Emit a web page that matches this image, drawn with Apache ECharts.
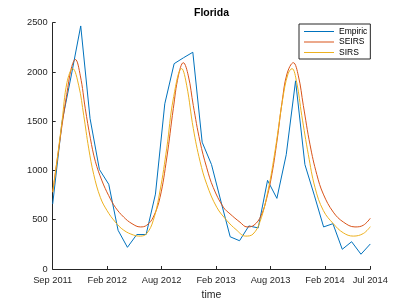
<!DOCTYPE html>
<html><head><meta charset="utf-8">
<script src="https://cdn.jsdelivr.net/npm/echarts@6/dist/echarts.min.js"></script>
<style>html,body{margin:0;padding:0;background:#fff}#c{width:409px;height:306px}</style>
</head><body><div id="c"></div>
<script>
// x axis: months since Sep 2011
const tickLabels = ['Sep 2011', 'Feb 2012', 'Aug 2012', 'Feb 2013', 'Aug 2013', 'Feb 2014', 'Jul 2014'];
const tickMonths = [0, 5.83, 11.66, 17.49, 23.32, 29.15, 34];
const yTicks = [0, 500, 1000, 1500, 2000, 2500];

// Empiric (monthly)
const empiric = [660, 1494, 1970, 2467, 1527, 1010, 860, 393, 220, 350, 350, 760, 1677, 2084, 2144, 2200, 1287, 1060, 690, 327, 287, 437, 417, 900, 717, 1160, 1910, 1060, 750, 427, 460, 200, 277, 150, 254];

// SEIRS model
const seirsT = [0.00, 0.50, 1.00, 1.50, 2.00, 2.42, 2.96, 3.49, 4.03, 4.56, 5.28, 6.00, 6.70, 7.60, 8.49, 9.38, 10.06, 10.77, 11.49, 12.21, 12.91, 13.45, 13.98, 14.52, 15.05, 15.77, 16.49, 17.19, 18.27, 18.98, 20.05, 20.80, 21.55, 22.30, 22.94, 23.48, 24.01, 24.55, 25.08, 25.76, 26.30, 26.83, 27.55, 28.27, 28.97, 30.04, 31.11, 32.36, 33.25, 34.00];
const seirsV = [780, 1120, 1460, 1770, 2040, 2127, 1960, 1627, 1327, 1094, 894, 744, 627, 527, 460, 427, 444, 527, 727, 1127, 1627, 1960, 2094, 1960, 1660, 1294, 1027, 827, 627, 560, 475, 427, 445, 540, 730, 970, 1300, 1690, 1980, 2094, 1960, 1660, 1260, 960, 760, 577, 477, 427, 444, 515];

// SIRS model
const sirsT = [0.00, 0.50, 1.00, 1.53, 2.14, 2.79, 3.32, 3.85, 4.39, 5.10, 5.81, 6.70, 7.60, 8.67, 9.38, 10.06, 10.77, 11.49, 12.21, 12.91, 13.81, 14.35, 15.05, 15.77, 16.49, 17.56, 18.63, 19.63, 20.66, 21.45, 22.19, 23.02, 23.84, 24.63, 25.19, 25.62, 26.12, 26.66, 27.37, 28.08, 28.97, 30.04, 31.11, 32.18, 33.25, 34.00];
const sirsV = [780, 1130, 1500, 1894, 2034, 1860, 1560, 1227, 960, 727, 594, 477, 394, 344, 334, 360, 494, 794, 1227, 1727, 2034, 1860, 1427, 1094, 860, 627, 494, 400, 334, 355, 480, 780, 1220, 1730, 1980, 2034, 1894, 1560, 1160, 827, 594, 460, 367, 334, 360, 430];

const seriesNames = ['Empiric', 'SEIRS', 'SIRS'];
const seriesColors = ['#0072BD', '#D95319', '#EDB120'];

const FONT = 'Liberation Sans, Arial, Helvetica, sans-serif';
const AX = '#262626';
const LINE_ICON = 'path://M0,0H30V1H0Z';

const chart = echarts.init(document.getElementById('c'), null, {renderer: 'canvas'});
chart.setOption({
  animation: false,
  backgroundColor: '#fff',
  title: {
    text: 'Florida', left: 194, top: 8, padding: 0,
    textStyle: {fontSize: 10.5, fontWeight: 'bold', color: '#000', fontFamily: FONT}
  },
  legend: {
    orient: 'vertical', left: 299, top: 24,
    itemWidth: 30, itemHeight: 11, itemGap: 1.5,
    padding: [3, 3, 2, 5],
    icon: LINE_ICON, symbolKeepAspect: true,
    itemStyle: {borderWidth: 0},
    lineStyle: {width: 0},
    borderColor: AX, borderWidth: 1, backgroundColor: '#fff',
    textStyle: {fontSize: 8.5, color: '#000', fontFamily: FONT},
    data: seriesNames.map((n, i) => ({
      name: n, icon: LINE_ICON,
      itemStyle: {color: seriesColors[i], borderWidth: 0, borderColor: seriesColors[i]}
    }))
  },
  grid: {left: 52.7, right: 38.7, top: 22.7, bottom: 33.3, containLabel: false},
  xAxis: {
    type: 'value', min: 0, max: 34,
    name: 'time', nameLocation: 'middle', nameGap: 21,
    nameTextStyle: {fontSize: 10.5, color: AX, fontFamily: FONT},
    axisLine: {lineStyle: {color: AX, width: 1}},
    axisTick: {inside: true, length: 3, customValues: tickMonths, lineStyle: {color: AX}},
    axisLabel: {
      customValues: tickMonths, margin: 6.5, fontSize: 9.3, color: AX, fontFamily: FONT,
      formatter: v => {
        let best = 0;
        tickMonths.forEach((t, i) => { if (Math.abs(t - v) < Math.abs(tickMonths[best] - v)) best = i; });
        return tickLabels[best];
      }
    },
    splitLine: {show: false}
  },
  yAxis: {
    type: 'value', min: yTicks[0], max: yTicks[yTicks.length - 1], interval: 500,
    axisLine: {show: true, lineStyle: {color: AX, width: 1}},
    axisTick: {show: true, inside: true, length: 3, lineStyle: {color: AX}},
    axisLabel: {margin: 5, fontSize: 9.3, color: AX, fontFamily: FONT, formatter: v => String(v)},
    splitLine: {show: false}
  },
  series: [
    {name: seriesNames[0], type: 'line', symbol: 'none', showSymbol: false,
     data: empiric.map((v, i) => [i, v]),
     lineStyle: {color: seriesColors[0], width: 1}, itemStyle: {color: seriesColors[0]}},
    {name: seriesNames[1], type: 'line', symbol: 'none', showSymbol: false, smooth: 0.4,
     data: seirsT.map((t, i) => [t, seirsV[i]]),
     lineStyle: {color: seriesColors[1], width: 1}, itemStyle: {color: seriesColors[1]}},
    {name: seriesNames[2], type: 'line', symbol: 'none', showSymbol: false, smooth: 0.4,
     data: sirsT.map((t, i) => [t, sirsV[i]]),
     lineStyle: {color: seriesColors[2], width: 1}, itemStyle: {color: seriesColors[2]}}
  ]
});
</script>
</body></html>
